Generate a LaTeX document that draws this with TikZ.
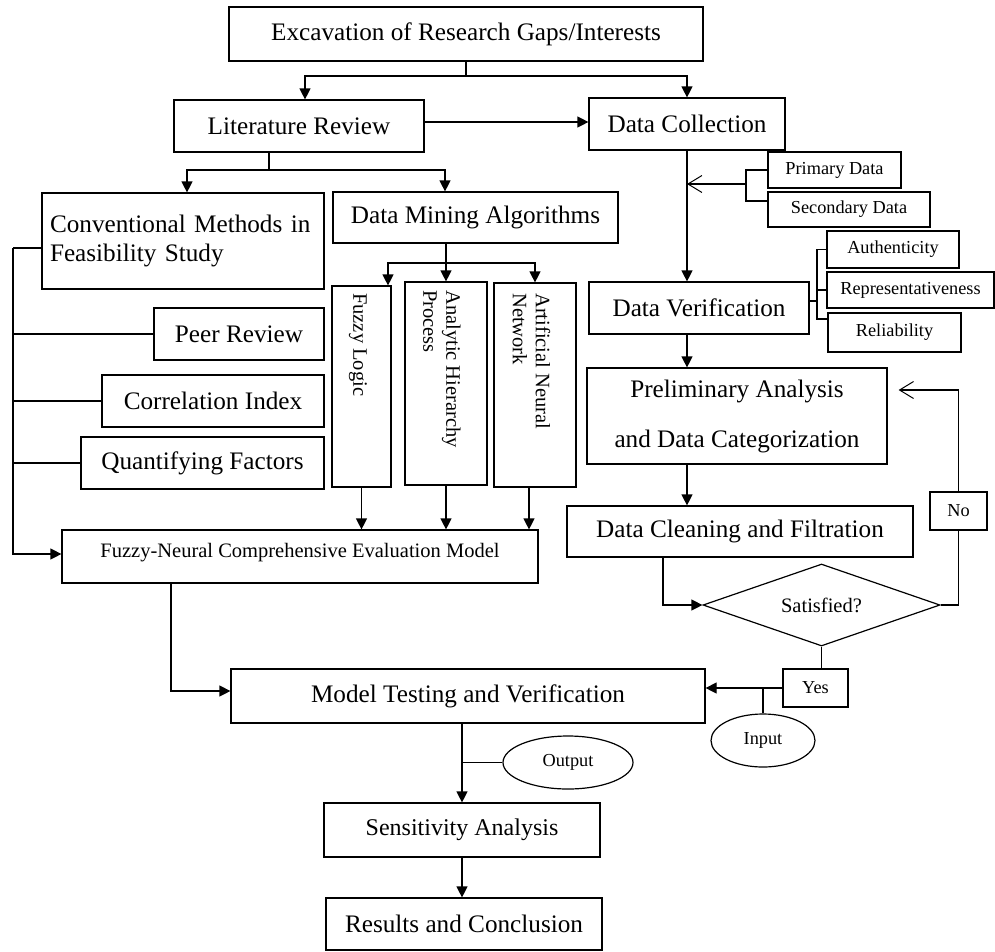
\documentclass[tikz,border=0pt]{standalone}
\usepackage{fontspec}
\setmainfont{Liberation Serif}
\usetikzlibrary{arrows.meta,shapes.geometric}
\newcommand\fbig{\fontsize{25.2}{29}\selectfont}
\newcommand\fpre{\fontsize{25.2}{50}\selectfont}
\newcommand\fsen{\fontsize{24}{29}\selectfont}
\newcommand\fmed{\fontsize{20.5}{23}\selectfont}
\newcommand\fsml{\fontsize{18.3}{21}\selectfont}
\begin{document}
\begin{tikzpicture}[x=1pt,y=-1pt,
  sz/.style 2 args={minimum width=#1pt,minimum height=#2pt},
  box/.style={draw,line width=1.2pt,fill=white,inner sep=0pt,align=center},
  ell/.style={draw,ellipse,line width=1.2pt,fill=white,inner sep=0pt,font=\fsml},
  ln/.style={line width=1.2pt},
  arr/.style={ln,-{Triangle[width=11pt,length=11pt]}},
  oarr/.style={ln,-{Straight Barb[length=14pt,width=17pt,line width=1pt]}}]
\useasboundingbox (0,0) rectangle (995,951);

% nodes
\node[box,sz={474}{54},font=\fbig] (exc) at (466,34) {Excavation of Research Gaps/Interests};
\node[box,sz={250}{52},font=\fbig] (lit) at (299,126) {Literature Review};
\node[box,sz={196}{52},font=\fbig] (dc) at (687,124) {Data Collection};
\node[box,sz={282}{96},font=\fbig,align=left,text width=266pt] (conv) at (183,241) {Conventional Methods in\\Feasibility Study};
\node[box,sz={285}{51},font=\fbig] (dma) at (475.5,217.5) {Data Mining Algorithms};
\node[box,sz={170}{52},font=\fbig] (peer) at (239,334) {Peer Review};
\node[box,sz={222}{52},font=\fbig] (corr) at (213,401) {Correlation Index};
\node[box,sz={243}{52},font=\fbig] (quant) at (202.5,463) {Quantifying Factors};
\node[box,sz={59}{201}] (fl) at (361.5,386.5) {};
\node[box,sz={82}{203}] (ahp) at (446,383.5) {};
\node[box,sz={82}{204}] (ann) at (535,385) {};
\node[rotate=-90,anchor=west,inner sep=0pt,font=\fmed] (flt) at (358,293) {Fuzzy Logic};
\node[rotate=-90,anchor=west,inner sep=0pt,align=left,font=\fmed] (ahpt) at (442,290) {Analytic Hierarchy\\Process};
\node[rotate=-90,anchor=west,inner sep=0pt,align=left,font=\fmed] (annt) at (531.5,293) {Artificial Neural\\Network};
\node[box,sz={476}{53}] (fn) at (300,556.5) {};
\node[anchor=base,inner sep=0pt,font=\fmed] (fnt) at (300,557) {Fuzzy-Neural Comprehensive Evaluation Model};
\node[box,sz={220}{52},font=\fbig] (dv) at (699,308) {Data Verification};
\node[box,sz={133}{36},font=\fsml] (prim) at (834.5,170) {Primary Data};
\node[box,sz={162}{35},font=\fsml] (sec) at (849,209.5) {Secondary Data};
\node[box,sz={132}{37},font=\fsml] (auth) at (893,249.5) {Authenticity};
\node[box,sz={167}{36},font=\fsml] (rep) at (910.5,290) {Representativeness};
\node[box,sz={133}{39},font=\fsml] (rel) at (894.5,332.5) {Reliability};
\node[box,sz={300}{96},font=\fpre] (pre) at (737,416) {Preliminary Analysis\\and Data Categorization};
\node[box,sz={346}{51},font=\fbig] (clean) at (740,531.5) {Data Cleaning and Filtration};
\node[draw,diamond,line width=1.2pt,fill=white,shape aspect=2.89,sz={237}{82},inner sep=0pt,font=\fmed] (sat) at (821.5,605) {Satisfied?};
\node[box,sz={57}{38},font=\fsml] (no) at (958.5,511) {No};
\node[box,sz={65}{38},font=\fsml] (yes) at (815.5,688) {Yes};
\node[ell,sz={104}{53}] (input) at (763,740.5) {Input};
\node[box,sz={474}{54},font=\fbig] (mt) at (468,696) {Model Testing and Verification};
\node[ell,sz={130}{53}] (output) at (568,762.5) {Output};
\node[box,sz={276}{54},font=\fsen] (sens) at (462,830) {Sensitivity Analysis};
\node[box,sz={276}{52},font=\fbig] (res) at (464,924) {Results and Conclusion};

% coordinates
\coordinate (j1) at (466,76);
\coordinate (j2) at (269,170);
\coordinate (j3) at (446,263);
\coordinate (bus) at (13,248);
\coordinate (b1) at (746,184);
\coordinate (b2) at (817,301);

% connectors
\draw[ln] (exc.south) -- (j1);
\draw[arr] (j1) -| ([xshift=6pt]lit.north);
\draw[arr] (j1) -| (dc.north);
\draw[arr] ([yshift=4pt]lit.east) -- ([yshift=4pt]lit.east -| dc.west);
\draw[ln] ([xshift=-30pt]lit.south) -- (j2);
\draw[arr] (j2) -| ([xshift=4pt]conv.north);
\draw[arr] (j2) -| ([xshift=-30.5pt]dma.north);
\draw[ln] ([yshift=-7pt]conv.west) -- (bus);
\draw[arr] (bus) |- ([yshift=2.5pt]fn.west);
\draw[ln] (peer.west) -- (peer.west -| bus);
\draw[ln] (corr.west) -- (corr.west -| bus);
\draw[ln] (quant.west) -- (quant.west -| bus);
\draw[arr] (ahp.north |- dma.south) -- (ahp.north);
\draw[arr] (j3) -| ([xshift=26.5pt]fl.north);
\draw[arr] (j3) -| (ann.north);
\draw[arr] (fl.south) -- (fl.south |- fn.north);
\draw[arr] (ahp.south) -- (ahp.south |- fn.north);
\draw[arr] ([xshift=-6pt]ann.south) -- ([xshift=-6pt]ann.south |- fn.north);
\draw[arr] ([xshift=-129pt]fn.south) |- ([yshift=5pt]mt.west);
\draw[arr] (dc.south) -- (dc.south |- dv.north);
\draw[ln] (prim.west) -- (746,170) -- (746,201) -- ([yshift=8.5pt]sec.west);
\draw[oarr] (b1) -- (b1 -| dc.south);
\draw[ln] ([yshift=7pt]dv.east) -- (b2);
\draw[ln] (auth.west) -- (817,249.5) -- (817,319) -- ([yshift=13.5pt]rel.west);
\draw[ln] (rep.west) -- (rep.west -| b2);
\draw[arr] ([xshift=-12pt]dv.south) -- ([xshift=-12pt]dv.south |- pre.north);
\draw[arr] ([xshift=-50pt]pre.south) -- ([xshift=-50pt]pre.south |- clean.north);
\draw[arr] ([xshift=-77pt]clean.south) |- (sat.west);
\draw[ln] (sat.east) -| (no.south);
\draw[oarr,shorten >=11pt] (no.north) |- ([yshift=26pt]pre.east);
\draw[ln] (sat.south) -- (sat.south |- yes.north);
\draw[arr] (yes.west) -- (yes.west -| mt.east);
\draw[ln] (input.north) -- (input.north |- yes.west);
\draw[arr] (sens.north |- mt.south) -- (sens.north);
\draw[ln] (output.west) -- (output.west -| sens.north);
\draw[arr] (sens.south) -- (sens.south |- res.north);
\end{tikzpicture}
\end{document}
